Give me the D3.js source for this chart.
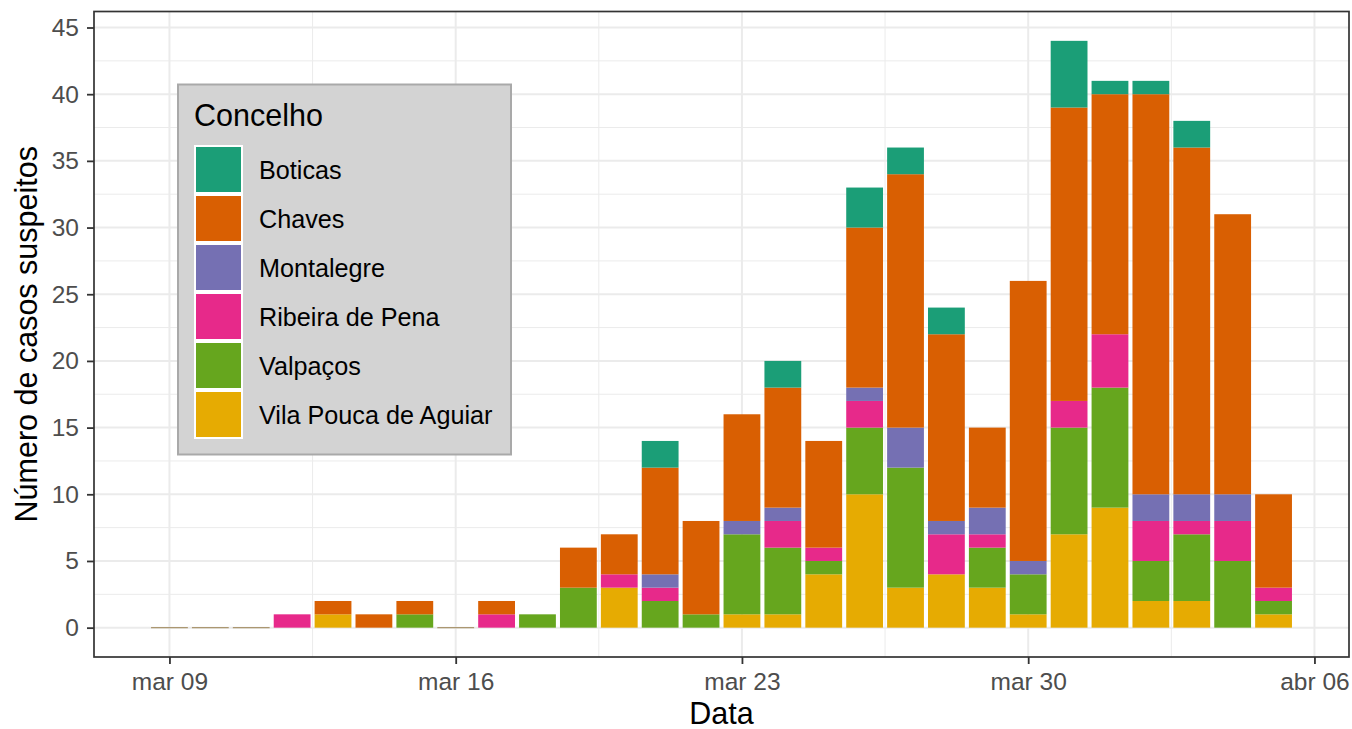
<!DOCTYPE html>
<html>
<head>
<meta charset="utf-8">
<script src="https://cdn.jsdelivr.net/npm/d3@7"></script>
<style>
  html, body { margin: 0; padding: 0; background: #fff; }
  svg { display: block; font-family: "Liberation Sans", Arial, Helvetica, sans-serif; }
</style>
</head>
<body>
<svg id="chart" width="1352" height="729"></svg>
<script>
// ---- Data ----
const startDate = "2020-03-09";          // first day with data
const nDays = 28;                          // mar 09 .. abr 05
const concelhos = ["Boticas", "Chaves", "Montalegre", "Ribeira de Pena", "Valpaços", "Vila Pouca de Aguiar"];
const colors = ["#1B9E77", "#D95F02", "#7570B3", "#E7298A", "#66A61E", "#E6AB02"];

const boticas   = [0,0,0,0,0,0,0,0,0,0,0,0,2,0,0,2,0,3,2,2,0,0,5,1,1,2,0,0];
const chaves    = [0,0,0,0,1,1,1,0,1,0,3,3,8,7,8,9,8,12,19,14,6,21,22,18,30,26,21,7];
const montalegre= [0,0,0,0,0,0,0,0,0,0,0,0,1,0,1,1,0,1,3,1,2,1,0,0,2,2,2,0];
const ribeira   = [0,0,0,1,0,0,0,0,1,0,0,1,1,0,0,2,1,2,0,3,1,0,2,4,3,1,3,1];
const valpacos  = [0,0,0,0,0,0,1,0,0,1,3,0,2,1,6,5,1,5,9,0,3,3,8,9,3,5,5,1];
const vilaPouca = [0,0,0,0,1,0,0,0,0,0,0,3,0,0,1,1,4,10,3,4,3,1,7,9,2,2,0,1];

const xTickDates  = ["2020-03-09", "2020-03-16", "2020-03-23", "2020-03-30", "2020-04-06"];
const xTickLabels = ["mar 09", "mar 16", "mar 23", "mar 30", "abr 06"];
const yTicks = [0, 5, 10, 15, 20, 25, 30, 35, 40, 45];

const legendTitle = "Concelho";
const xTitle = "Data";
const yTitle = "Número de casos suspeitos";

// ---- Build table ----
const DAY = 86400000;
const t0 = new Date(startDate + "T00:00:00Z");
const seriesArrays = {
  "Boticas": boticas, "Chaves": chaves, "Montalegre": montalegre,
  "Ribeira de Pena": ribeira, "Valpaços": valpacos, "Vila Pouca de Aguiar": vilaPouca
};
const table = d3.range(nDays).map(i => {
  const row = { date: new Date(t0.getTime() + i * DAY) };
  concelhos.forEach(c => row[c] = seriesArrays[c][i]);
  row.total = concelhos.reduce((s, c) => s + row[c], 0);
  return row;
});

// stack bottom-up: last level at the bottom (ggplot order)
const stackKeys = concelhos.slice().reverse();
const stacked = d3.stack().keys(stackKeys)(table);

// ---- Layout ----
const svg = d3.select("#chart");
const P = { left: 94, right: 1349, top: 11.5, bottom: 657 };

const first = table[0].date, last = table[nDays - 1].date;
const barHalf = 0.45 * DAY;
const span = (last - first) + 2 * barHalf;
const pad = 0.05 * span;
const x = d3.scaleUtc()
  .domain([new Date(first - barHalf - pad), new Date(+last + barHalf + pad)])
  .range([P.left, P.right]);

const yMax = d3.max(table, d => d.total);
const y = d3.scaleLinear()
  .domain([-0.05 * yMax, yMax * 1.05])
  .range([P.bottom, P.top]);

// panel background
svg.append("rect").attr("x", P.left).attr("y", P.top)
  .attr("width", P.right - P.left).attr("height", P.bottom - P.top).attr("fill", "#fff");

// grid
const grid = svg.append("g");
const xMajor = xTickDates.map(d => new Date(d + "T00:00:00Z"));
const xMinor = [];
for (let i = -1; i < xMajor.length; i++) {
  const a = i >= 0 ? xMajor[i] : new Date(xMajor[0] - 7 * DAY);
  xMinor.push(new Date(+a + 3.5 * DAY));
}
const yMinor = yTicks.map(v => v - 2.5).concat([yTicks[yTicks.length - 1] + 2.5]);
const [xd0, xd1] = x.domain();
const [yd0, yd1] = y.domain();

grid.selectAll(".ymin").data(yMinor.filter(v => v > yd0 && v < yd1)).join("line")
  .attr("x1", P.left).attr("x2", P.right).attr("y1", d => y(d)).attr("y2", d => y(d))
  .attr("stroke", "#ebebeb").attr("stroke-width", 1);
grid.selectAll(".xmin").data(xMinor.filter(d => d > xd0 && d < xd1)).join("line")
  .attr("y1", P.top).attr("y2", P.bottom).attr("x1", d => x(d)).attr("x2", d => x(d))
  .attr("stroke", "#ebebeb").attr("stroke-width", 1);
grid.selectAll(".ymaj").data(yTicks).join("line")
  .attr("x1", P.left).attr("x2", P.right).attr("y1", d => y(d)).attr("y2", d => y(d))
  .attr("stroke", "#ebebeb").attr("stroke-width", 2);
grid.selectAll(".xmaj").data(xMajor).join("line")
  .attr("y1", P.top).attr("y2", P.bottom).attr("x1", d => x(d)).attr("x2", d => x(d))
  .attr("stroke", "#ebebeb").attr("stroke-width", 2);

// bars
const color = d3.scaleOrdinal().domain(concelhos).range(colors);
const barsG = svg.append("g");
barsG.selectAll("g").data(stacked).join("g")
  .attr("fill", s => color(s.key))
  .selectAll("rect").data(s => s.filter(d => d[1] > d[0])).join("rect")
  .attr("x", d => x(new Date(d.data.date - barHalf)))
  .attr("width", d => x(new Date(+d.data.date + barHalf)) - x(new Date(d.data.date - barHalf)))
  .attr("y", d => y(d[1]))
  .attr("height", d => y(d[0]) - y(d[1]));

// zero-total days: thin line (zero-height bars)
barsG.selectAll(".zero").data(table.filter(d => d.total === 0)).join("rect")
  .attr("x", d => x(new Date(d.date - barHalf)))
  .attr("width", d => x(new Date(+d.date + barHalf)) - x(new Date(d.date - barHalf)))
  .attr("y", y(0) - 0.6).attr("height", 1.2)
  .attr("fill", "#a8926a");

// panel border
svg.append("rect").attr("x", P.left).attr("y", P.top)
  .attr("width", P.right - P.left).attr("height", P.bottom - P.top)
  .attr("fill", "none").attr("stroke", "#333333").attr("stroke-width", 1.7);

// axes
const tickFont = 24.5;
const xAxis = d3.axisBottom(x).tickValues(xMajor)
  .tickFormat((d, i) => xTickLabels[i]).tickSize(7).tickPadding(8.5);
const gx = svg.append("g").attr("transform", `translate(0,${P.bottom})`).call(xAxis);
gx.select(".domain").remove();
gx.selectAll(".tick line").attr("stroke", "#333333").attr("stroke-width", 1.8);
gx.selectAll(".tick text").attr("fill", "#4d4d4d").attr("font-size", tickFont)
  .attr("font-family", "Liberation Sans, Arial, sans-serif");

const yAxis = d3.axisLeft(y).tickValues(yTicks).tickSize(7).tickPadding(8);
const gy = svg.append("g").attr("transform", `translate(${P.left},0)`).call(yAxis);
gy.select(".domain").remove();
gy.selectAll(".tick line").attr("stroke", "#333333").attr("stroke-width", 1.8);
gy.selectAll(".tick text").attr("fill", "#4d4d4d").attr("font-size", tickFont)
  .attr("font-family", "Liberation Sans, Arial, sans-serif");

// axis titles
svg.append("text").attr("x", (P.left + P.right) / 2).attr("y", 724)
  .attr("text-anchor", "middle").attr("font-size", 30.5).attr("fill", "#000").text(xTitle);
svg.append("text")
  .attr("transform", `translate(37,${(P.top + P.bottom) / 2}) rotate(-90)`)
  .attr("text-anchor", "middle").attr("font-size", 30.5).attr("fill", "#000").text(yTitle);

// legend
const L = svg.append("g");
L.append("rect").attr("x", 178).attr("y", 84.5).attr("width", 333).attr("height", 370)
  .attr("fill", "#d3d3d3").attr("stroke", "#a9a9a9").attr("stroke-width", 2);
L.append("text").attr("x", 194).attr("y", 126).attr("font-size", 30.5).attr("fill", "#000")
  .text(legendTitle);
const items = L.selectAll(".item").data(concelhos).join("g")
  .attr("transform", (d, i) => `translate(194,${145 + 49 * i})`);
items.append("rect").attr("width", 49).attr("height", 49).attr("fill", "#fff");
items.append("rect").attr("x", 2).attr("y", 2).attr("width", 45).attr("height", 45)
  .attr("fill", d => color(d));
items.append("text").attr("x", 65).attr("y", 33.5).attr("font-size", 25.2).attr("fill", "#000")
  .text(d => d);
</script>
</body>
</html>
